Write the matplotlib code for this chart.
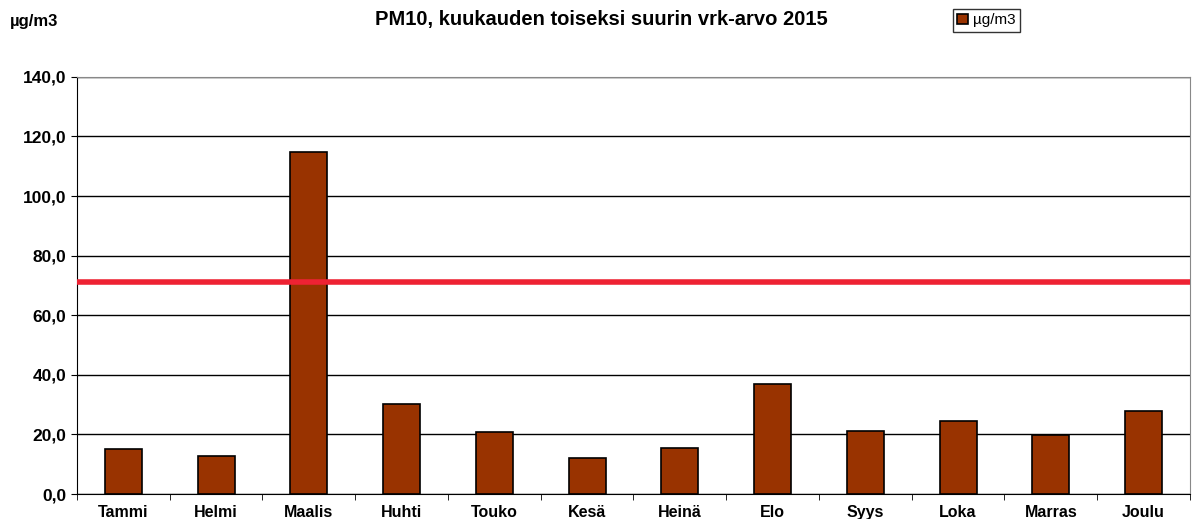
import numpy as np
import matplotlib.pyplot as plt

months = ['Tammi', 'Helmi', 'Maalis', 'Huhti', 'Touko', 'Kesä',
          'Heinä', 'Elo', 'Syys', 'Loka', 'Marras', 'Joulu']
values = [15.0, 12.9, 114.8, 30.2, 20.8, 12.1, 15.4, 36.9, 21.3, 24.6, 19.7, 28.0]
limit = 71.0
yticks = [0, 20, 40, 60, 80, 100, 120, 140]

plt.rcParams['font.family'] = ['Liberation Sans', 'DejaVu Sans']

fig = plt.figure(figsize=(12.02, 5.19), dpi=100)
ax = fig.add_axes([0.064, 0.048, 0.926, 0.804])

x = np.arange(len(months))
ax.bar(x, values, width=0.4, color='#993300', edgecolor='black', linewidth=1.2,
       label='µg/m3', zorder=3)
ax.axhline(limit, color='#ee2233', linewidth=4, zorder=4, xmin=-0.003)

ax.set_xlim(-0.5, len(months) - 0.5)
ax.set_ylim(0, 140)
ax.set_yticks(yticks)
ax.set_yticklabels([f'{v:.1f}'.replace('.', ',') for v in yticks],
                   fontsize=12.5, fontweight='bold')
ax.set_xticks(x)
ax.set_xticklabels(months, fontsize=11.5, fontweight='bold')
ax.set_xticks(np.arange(len(months) + 1) - 0.5, minor=True)
ax.tick_params(axis='x', which='major', length=0, pad=8)
ax.tick_params(axis='x', which='minor', length=4, direction='out')
ax.tick_params(axis='y', length=4, direction='out')
ax.yaxis.grid(True, color='black', linewidth=1)
ax.set_axisbelow(True)

for s in ['top', 'right']:
    ax.spines[s].set_color('#888888')
for s in ['left', 'bottom']:
    ax.spines[s].set_color('black')

fig.text(0.5, 0.962, 'PM10, kuukauden toiseksi suurin vrk-arvo 2015',
         ha='center', va='center', fontsize=14.5, fontweight='bold')
fig.text(0.008, 0.958, 'µg/m3', ha='left', va='center', fontsize=12, fontweight='bold')

leg = ax.legend(loc='upper left', bbox_to_anchor=(0.787, 1.163), frameon=True,
                fancybox=False, edgecolor='black', fontsize=11,
                handlelength=0.7, handleheight=0.7, handletextpad=0.3,
                borderpad=0.3, borderaxespad=0)
leg.get_frame().set_linewidth(1)

fig.savefig('out.png', dpi=100)
